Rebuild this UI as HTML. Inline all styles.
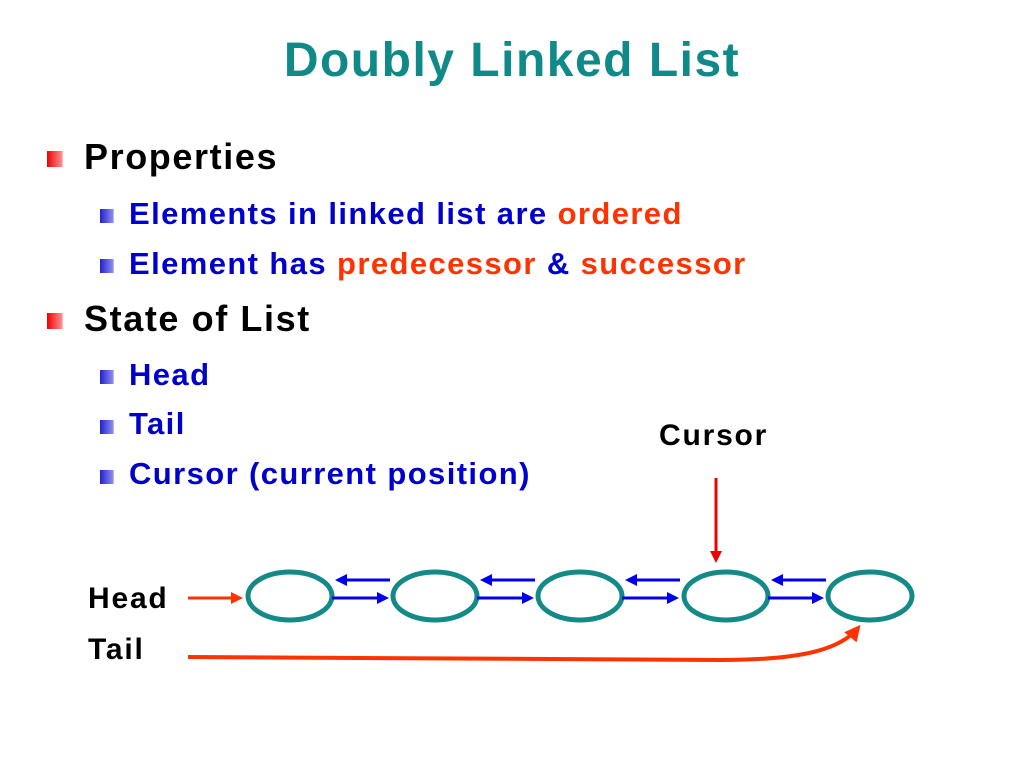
<!DOCTYPE html>
<html><head><meta charset="utf-8"><style>
body{margin:0;width:1024px;height:768px;background:#fff;position:relative;overflow:hidden;font-family:"Liberation Sans",Arial,sans-serif;font-weight:bold}
.t{position:absolute;white-space:nowrap}
.b1{position:absolute;width:16px;height:16px;background:linear-gradient(90deg,#e00,#f88 90%,#fcc)}
.b2{position:absolute;width:14px;height:14px;background:linear-gradient(90deg,#22c,#88e 90%,#ccf)}
.l1{font-size:36px;letter-spacing:1.6px;color:#000}
.l2{font-size:31px;letter-spacing:1.4px;color:#0000cc}
.r{color:#ff3300}
.k{font-size:30px;letter-spacing:1.8px;color:#000}
</style></head><body>
<div class="t" style="left:0;width:1024px;text-align:center;top:33px;font-size:48px;letter-spacing:1.5px;color:#108a88">Doubly Linked List</div>
<div class="b1" style="left:47px;top:151px"></div>
<div class="t l1" style="left:84px;top:136px">Properties</div>
<div class="b2" style="left:100px;top:209px"></div>
<div class="t l2" style="left:129px;top:196px">Elements in linked list are <span class="r">ordered</span></div>
<div class="b2" style="left:100px;top:259px"></div>
<div class="t l2" style="left:129px;top:246px">Element has <span class="r">predecessor</span> &amp; <span class="r">successor</span></div>
<div class="b1" style="left:47px;top:313px"></div>
<div class="t l1" style="left:84px;top:298px">State of List</div>
<div class="b2" style="left:100px;top:370px"></div>
<div class="t l2" style="left:129px;top:357px">Head</div>
<div class="b2" style="left:100px;top:420px"></div>
<div class="t l2" style="left:129px;top:406px">Tail</div>
<div class="b2" style="left:100px;top:470px"></div>
<div class="t l2" style="left:129px;top:456px">Cursor (current position)</div>
<div class="t k" style="left:659px;top:419px">Cursor</div>
<div class="t k" style="left:88px;top:582px">Head</div>
<div class="t k" style="left:88px;top:633px">Tail</div>
<svg width="1024" height="768" style="position:absolute;left:0;top:0">
<defs>
<marker id="ab" markerWidth="4" markerHeight="4" refX="3" refY="2" orient="auto" markerUnits="strokeWidth"><path d="M0,0L4,2L0,4z" fill="#0000ee"/></marker>
<marker id="ar" markerWidth="4" markerHeight="4" refX="3" refY="2" orient="auto" markerUnits="strokeWidth"><path d="M0,0L4,2L0,4z" fill="#ff3300"/></marker>
<marker id="ar2" markerWidth="4" markerHeight="4" refX="3" refY="2" orient="auto" markerUnits="strokeWidth"><path d="M0,0L4,2L0,4z" fill="#ee0000"/></marker>
</defs>
<g fill="none" stroke="#138a88" stroke-width="5">
<ellipse cx="290" cy="596" rx="42" ry="24"/>
<ellipse cx="435" cy="596" rx="42" ry="24"/>
<ellipse cx="580" cy="596" rx="42" ry="24"/>
<ellipse cx="726" cy="596" rx="42" ry="24"/>
<ellipse cx="870" cy="596" rx="42" ry="24"/>
</g>
<g stroke="#0000ee" stroke-width="3">
<line x1="332" y1="598" x2="386" y2="598" marker-end="url(#ab)"/>
<line x1="477" y1="598" x2="531" y2="598" marker-end="url(#ab)"/>
<line x1="622" y1="598" x2="676" y2="598" marker-end="url(#ab)"/>
<line x1="768" y1="598" x2="821" y2="598" marker-end="url(#ab)"/>
<line x1="390" y1="580" x2="338" y2="580" marker-end="url(#ab)"/>
<line x1="535" y1="580" x2="483" y2="580" marker-end="url(#ab)"/>
<line x1="680" y1="580" x2="628" y2="580" marker-end="url(#ab)"/>
<line x1="826" y1="580" x2="774" y2="580" marker-end="url(#ab)"/>
</g>
<line x1="188" y1="598" x2="240" y2="598" stroke="#ff3300" stroke-width="3" marker-end="url(#ar)"/>
<line x1="716" y1="478" x2="716" y2="560" stroke="#ee0000" stroke-width="3" marker-end="url(#ar2)"/>
<path d="M188,657 L720,660 C800,660 840,650 858,628" fill="none" stroke="#ff3300" stroke-width="4" marker-end="url(#ar)"/>
</svg>
</body></html>
